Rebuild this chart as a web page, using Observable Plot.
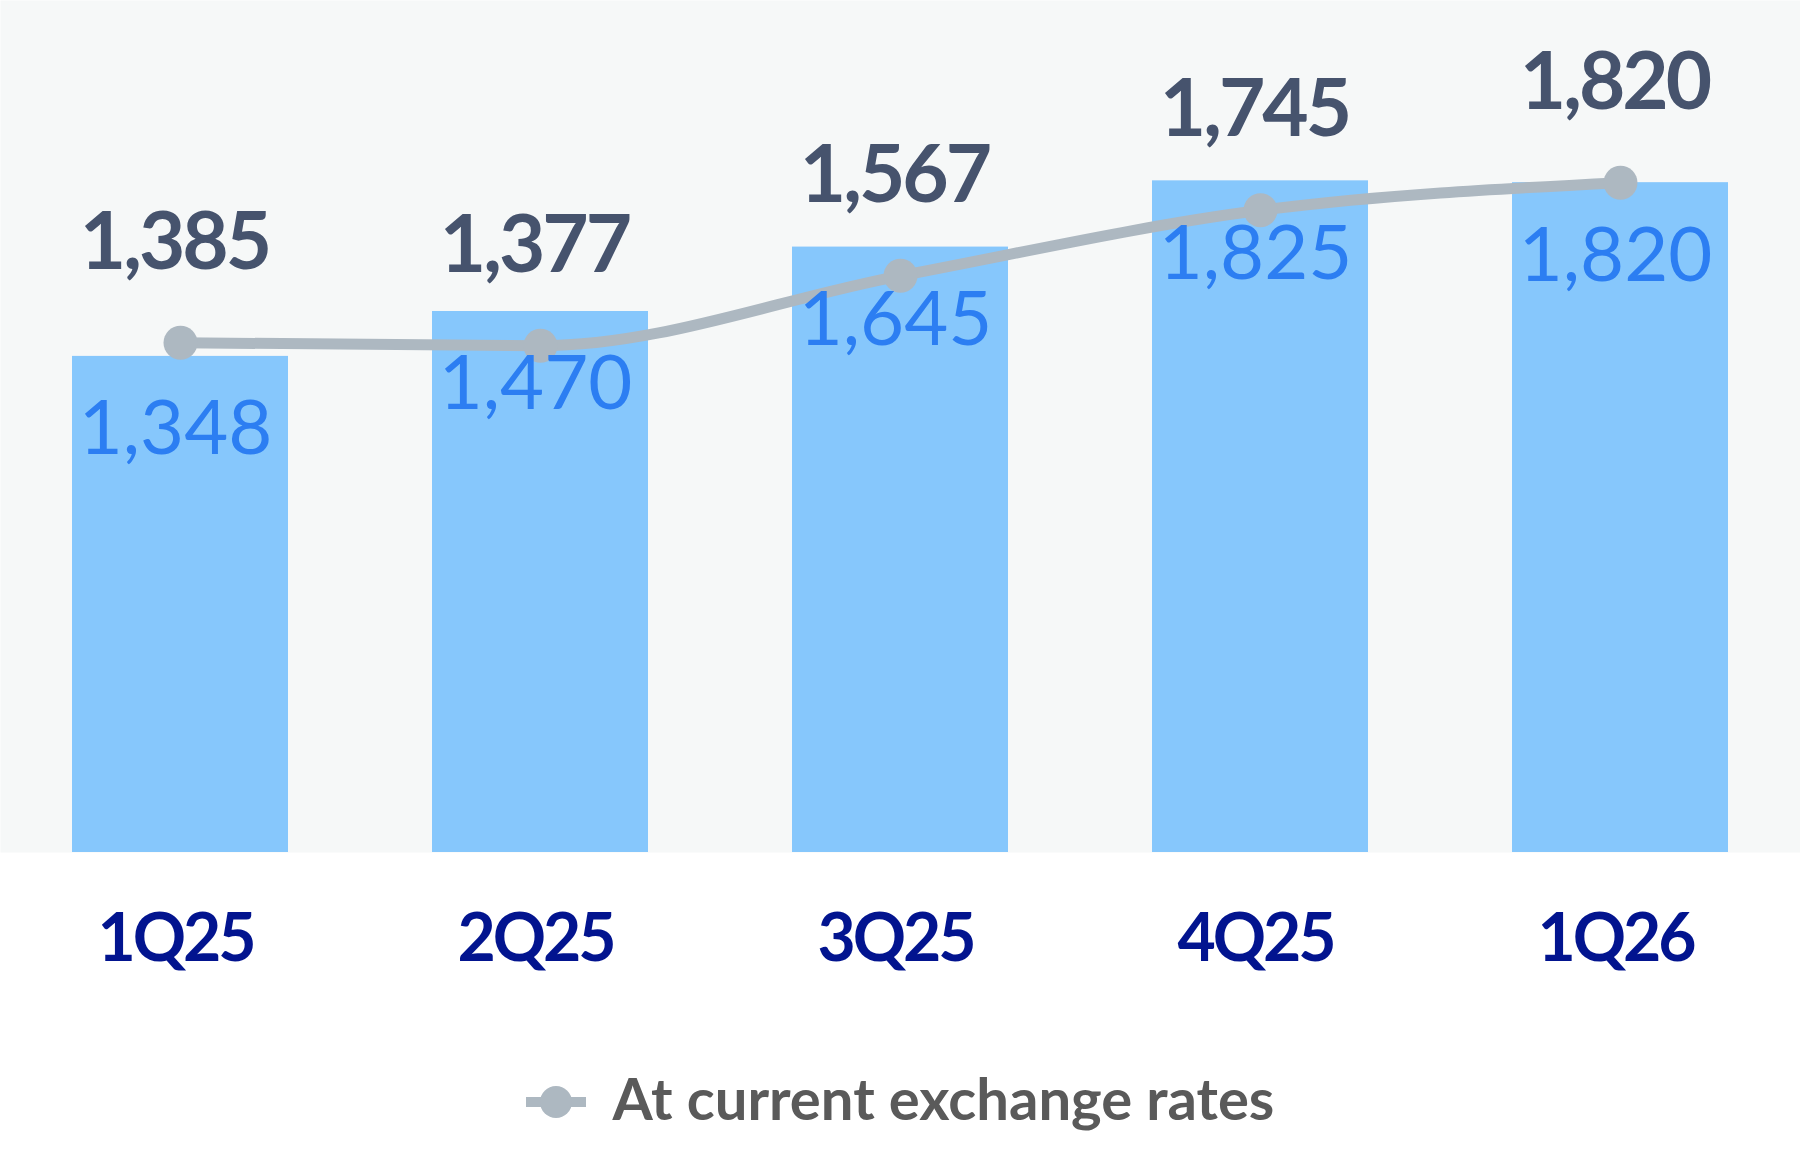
<!DOCTYPE html>
<html>
<head>
<meta charset="utf-8">
<script src="https://cdn.jsdelivr.net/npm/d3@7"></script>
<script src="https://cdn.jsdelivr.net/npm/@observablehq/plot@0.6"></script>
<style>
  html, body { margin: 0; padding: 0; background: #ffffff; }
  #wrap { width: 1800px; font-family: Lato, "Open Sans", sans-serif; }
  #legend { height: 142px; display: flex; justify-content: center; align-items: flex-start; }
  #legend .item { display: flex; align-items: center; margin-top: 62px; }
  #legend span { font-size: 58px; font-weight: 700; color: #5a5a5a; margin-left: 27px; line-height: 60px; position: relative; top: -4px; }
</style>
</head>
<body>
<div id="wrap">
  <div id="chart"></div>
  <div id="legend"></div>
</div>
<script>
const quarters = ["1Q25", "2Q25", "3Q25", "4Q25", "1Q26"];
const constantRates = [1348, 1470, 1645, 1825, 1820];
const currentRates = [1385, 1377, 1567, 1745, 1820];
const legendLabel = "At current exchange rates";

const rows = quarters.map((q, i) => ({q, constant: constantRates[i], current: currentRates[i]}));
const fmt = d3.format(",");

const panelColor = "#f6f8f8";
const barColor = "#86c7fc";
const lineColor = "#adb8c1";

const chart = Plot.plot({
  width: 1800,
  height: 1010,
  marginTop: 0,
  marginBottom: 158,
  marginLeft: 0,
  marginRight: 0,
  style: {background: "transparent", fontFamily: "Lato, 'Open Sans', sans-serif", overflow: "visible"},
  x: {domain: quarters, paddingInner: 0.4, paddingOuter: 0.2, label: null},
  y: {domain: [0, 2315], axis: null},
  marks: [
    Plot.frame({fill: panelColor, stroke: "none"}),
    Plot.barY(rows, {x: "q", y: "constant", fill: barColor}),
    Plot.line(rows, {x: "q", y: "current", stroke: lineColor, strokeWidth: 11, curve: "monotone-x"}),
    Plot.dot(rows, {x: "q", y: "current", r: 17, fill: lineColor, stroke: "none"}),
    Plot.text(rows, {x: "q", y: "current", text: d => fmt(d.current), dx: -6, dy: -74, lineAnchor: "bottom",
      fontSize: 80, fontWeight: 700, fill: "#46536d"}),
    Plot.text(rows, {x: "q", y: "constant", text: d => fmt(d.constant), dx: -5, dy: 98, lineAnchor: "bottom",
      fontSize: 76, fontWeight: 400, fill: "#2c7ef2"}),
    Plot.axisX({tickSize: 0, tickPadding: 62, dx: -5, fontSize: 66, fontWeight: 700, fill: "#02148f", label: null})
  ]
});
// tighten the letter spacing of the bold value labels and axis labels
const textGroups = d3.select(chart).selectAll('g[aria-label="text"]').nodes();
if (textGroups[0]) d3.select(textGroups[0]).selectAll("text").style("letter-spacing", "-3px");
d3.select(chart).selectAll('g[aria-label="x-axis tick label"] text').style("letter-spacing", "-3px");
document.getElementById("chart").appendChild(chart);

// legend
const legend = document.getElementById("legend");
const item = document.createElement("div");
item.className = "item";
const sw = d3.create("svg").attr("width", 60).attr("height", 34);
sw.append("line").attr("x1", 0).attr("x2", 60).attr("y1", 17).attr("y2", 17)
  .attr("stroke", lineColor).attr("stroke-width", 10);
sw.append("circle").attr("cx", 30).attr("cy", 17).attr("r", 16).attr("fill", lineColor);
item.appendChild(sw.node());
const span = document.createElement("span");
span.textContent = legendLabel;
item.appendChild(span);
legend.appendChild(item);
</script>
</body>
</html>
